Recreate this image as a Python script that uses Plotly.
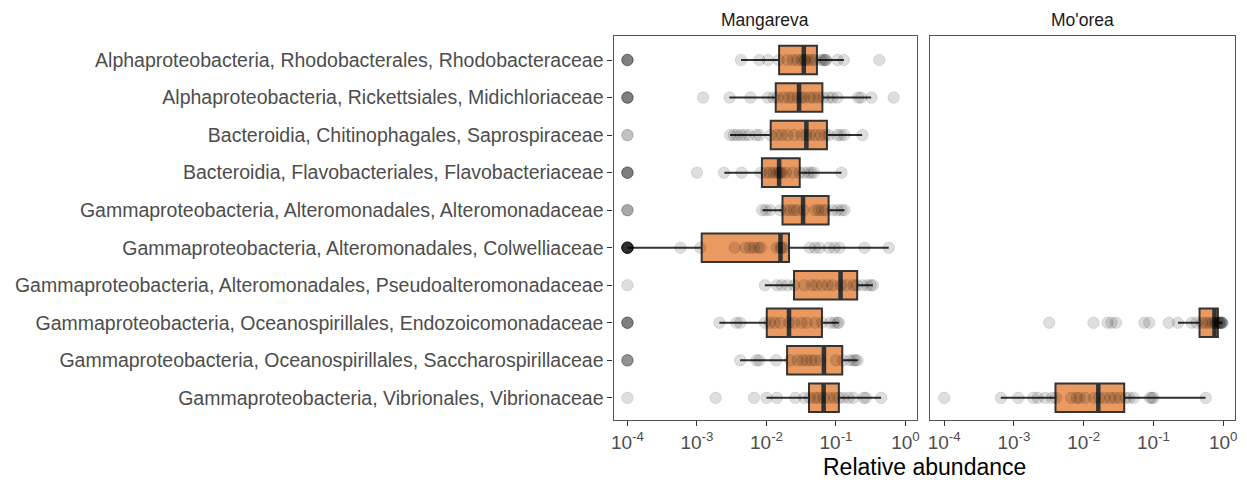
import plotly.graph_objects as go

categories = [
    "Alphaproteobacteria, Rhodobacterales, Rhodobacteraceae",
    "Alphaproteobacteria, Rickettsiales, Midichloriaceae",
    "Bacteroidia, Chitinophagales, Saprospiraceae",
    "Bacteroidia, Flavobacteriales, Flavobacteriaceae",
    "Gammaproteobacteria, Alteromonadales, Alteromonadaceae",
    "Gammaproteobacteria, Alteromonadales, Colwelliaceae",
    "Gammaproteobacteria, Alteromonadales, Pseudoalteromonadaceae",
    "Gammaproteobacteria, Oceanospirillales, Endozoicomonadaceae",
    "Gammaproteobacteria, Oceanospirillales, Saccharospirillaceae",
    "Gammaproteobacteria, Vibrionales, Vibrionaceae",
]
facets = ["Mangareva", "Mo'orea"]

# ---- Mangareva: box statistics (one per category) ----
man_q1 = [0.0152, 0.0136, 0.0115, 0.0086, 0.0170, 0.00117, 0.0249, 0.0101, 0.0198, 0.0409]
man_median = [0.0344, 0.0294, 0.0375, 0.0152, 0.0336, 0.0159, 0.1164, 0.0211, 0.0671, 0.0664]
man_q3 = [0.0532, 0.0637, 0.0741, 0.0301, 0.0783, 0.0211, 0.2018, 0.0628, 0.123, 0.110]
man_low = [0.0043, 0.00292, 0.00299, 0.00248, 0.0087, 0.0001, 0.00948, 0.0021, 0.00416, 0.0100]
man_high = [0.130, 0.321, 0.238, 0.120, 0.133, 0.573, 0.338, 0.110, 0.206, 0.446]

# ---- Mangareva: observations (zeros shown at 1e-4) ----
man_rhodobacteraceae = [1e-4, 1e-4, 1e-4, 1e-4, 1e-4, 4.3e-3, 7.9e-3, 1.05e-2, 1.5e-2, 2.0e-2, 2.4e-2, 2.8e-2,
                        3.2e-2, 3.5e-2, 3.6e-2, 4.0e-2, 4.5e-2, 5.0e-2, 6.0e-2, 6.5e-2, 6.8e-2, 7.1e-2,
                        7.2e-2, 0.105, 0.129, 0.42]
man_midichloriaceae = [1e-4, 1e-4, 1e-4, 1e-4, 1e-4, 1.23e-3, 2.95e-3, 5.9e-3, 1.05e-2, 1.26e-2, 1.45e-2,
                       1.78e-2, 2.1e-2, 2.4e-2, 2.8e-2, 3.2e-2, 3.5e-2, 4.2e-2, 4.8e-2, 5.6e-2, 6.6e-2,
                       7.9e-2, 8.9e-2, 0.105, 0.209, 0.229, 0.324, 0.676]
man_saprospiraceae = [1e-4, 1e-4, 3.0e-3, 3.4e-3, 3.8e-3, 4.3e-3, 4.9e-3, 5.6e-3, 7.1e-3, 7.9e-3, 1.15e-2,
                      1.41e-2, 1.66e-2, 2.0e-2, 2.5e-2, 3.2e-2, 3.7e-2, 4.2e-2, 5.0e-2, 6.0e-2, 7.1e-2,
                      7.9e-2, 0.105, 0.117, 0.132, 0.24]
man_flavobacteriaceae = [1e-4, 1e-4, 1e-4, 1e-4, 1e-4, 1.0e-3, 2.45e-3, 4.4e-3, 8.3e-3, 1.0e-2, 1.12e-2,
                         1.26e-2, 1.41e-2, 1.51e-2, 1.58e-2, 1.66e-2, 1.9e-2, 2.4e-2, 3.0e-2, 3.5e-2,
                         4.0e-2, 4.4e-2, 4.8e-2, 0.12]
man_alteromonadaceae = [1e-4, 1e-4, 1e-4, 8.7e-3, 9.8e-3, 1.12e-2, 1.58e-2, 1.9e-2, 2.2e-2, 2.5e-2, 2.8e-2,
                        3.4e-2, 5.0e-2, 5.6e-2, 6.3e-2, 7.1e-2, 8.9e-2, 0.105, 0.12, 0.132]
man_colwelliaceae = [1e-4, 1e-4, 1e-4, 1e-4, 1e-4, 1e-4, 1e-4, 1e-4, 1e-4, 1e-4, 1e-4, 1e-4,
                     5.8e-4, 1.12e-3, 3.5e-3, 5.0e-3, 5.8e-3, 6.6e-3, 7.6e-3, 8.3e-3, 1.41e-2, 1.58e-2,
                     1.66e-2, 1.78e-2, 4.2e-2, 5.0e-2, 5.8e-2, 7.9e-2, 9.5e-2, 0.112, 0.257, 0.575]
man_pseudoalteromonadaceae = [1e-4, 9.5e-3, 1.41e-2, 1.66e-2, 2.0e-2, 2.5e-2, 3.5e-2, 4.5e-2, 5.2e-2, 6.3e-2,
                              7.6e-2, 8.9e-2, 0.117, 0.141, 0.178, 0.2, 0.24, 0.282, 0.316, 0.339]
man_endozoicomonadaceae = [1e-4, 1e-4, 1e-4, 1e-4, 1e-4, 2.1e-3, 3.7e-3, 4.2e-3, 9.5e-3, 1.12e-2, 1.32e-2,
                           1.58e-2, 2.1e-2, 2.5e-2, 3.2e-2, 3.8e-2, 5.0e-2, 6.3e-2, 8.3e-2, 9.5e-2,
                           0.105, 0.11]
man_saccharospirillaceae = [1e-4, 1e-4, 1e-4, 1e-4, 4.2e-3, 7.2e-3, 7.9e-3, 1.38e-2, 2.2e-2, 2.8e-2, 3.3e-2,
                            3.8e-2, 4.4e-2, 5.0e-2, 6.0e-2, 0.1, 0.126, 0.158, 0.178, 0.19, 0.204]
man_vibrionaceae = [1e-4, 1.86e-3, 6.6e-3, 1.0e-2, 1.41e-2, 2.6e-2, 3.5e-2, 4.2e-2, 5.0e-2, 5.6e-2, 6.6e-2,
                    7.9e-2, 9.5e-2, 0.11, 0.126, 0.151, 0.178, 0.251, 0.269, 0.447]

# ---- Mo'orea: box statistics (only two families present) ----
moo_categories = [categories[7], categories[9]]
moo_q1 = [0.458, 0.00394]
moo_median = [0.751, 0.0162]
moo_q3 = [0.839, 0.0381]
moo_low = [0.225, 0.000646]
moo_high = [0.98, 0.558]

moo_endozoicomonadaceae = [3.2e-3, 1.38e-2, 2.2e-2, 2.5e-2, 2.9e-2, 7.4e-2, 8.7e-2, 0.166, 0.224, 0.355,
                           0.417, 0.501, 0.562, 0.631, 0.708, 0.759, 0.794, 0.832, 0.871, 0.891, 0.912,
                           0.933, 0.955, 0.955, 0.977]
moo_vibrionaceae = [1e-4, 6.5e-4, 1.15e-3, 1.9e-3, 2.2e-3, 2.8e-3, 3.5e-3, 4.0e-3, 6.6e-3, 7.9e-3, 8.7e-3,
                    1.05e-2, 1.41e-2, 1.66e-2, 2.0e-2, 2.4e-2, 2.8e-2, 3.3e-2, 4.0e-2, 4.5e-2, 5.2e-2,
                    8.9e-2, 9.5e-2, 0.1, 0.562]

tick_vals = [1e-4, 1e-3, 1e-2, 1e-1, 1]
tick_text = ["10<sup>-4</sup>", "10<sup>-3</sup>", "10<sup>-2</sup>", "10<sup>-1</sup>", "10<sup>0</sup>"]

man_points = [man_rhodobacteraceae, man_midichloriaceae, man_saprospiraceae, man_flavobacteriaceae,
              man_alteromonadaceae, man_colwelliaceae, man_pseudoalteromonadaceae,
              man_endozoicomonadaceae, man_saccharospirillaceae, man_vibrionaceae]
moo_points = [moo_endozoicomonadaceae, moo_vibrionaceae]

FONT = "Liberation Sans, Arial, Helvetica, sans-serif"
BOX_FILL = "#EA9A60"
EDGE = "#333333"
BOX_W = 0.76

fig = go.Figure()


def add_panel(cats, q1, med, q3, lo, hi, pts, xa, ya):
    fig.add_trace(go.Box(
        y=cats, q1=q1, median=med, q3=q3, lowerfence=lo, upperfence=hi,
        orientation="h", fillcolor=BOX_FILL, line=dict(color=EDGE, width=2),
        whiskerwidth=0, width=BOX_W, boxpoints=False, xaxis=xa, yaxis=ya,
        showlegend=False, hoverinfo="skip"))
    # thicker median bar (as in ggplot)
    fig.add_trace(go.Scatter(
        x=med, y=cats, mode="markers", xaxis=xa, yaxis=ya,
        marker=dict(symbol="line-ns", size=20, line=dict(color=EDGE, width=4.5)),
        showlegend=False, hoverinfo="skip"))
    xs, ys = [], []
    for c, p in zip(cats, pts):
        xs += p
        ys += [c] * len(p)
    fig.add_trace(go.Scatter(
        x=xs, y=ys, mode="markers", xaxis=xa, yaxis=ya,
        marker=dict(size=11.5, color="rgba(0,0,0,0.13)",
                    line=dict(color="rgba(0,0,0,0.10)", width=1)),
        showlegend=False, hoverinfo="skip"))


add_panel(categories, man_q1, man_median, man_q3, man_low, man_high, man_points, "x", "y")
add_panel(moo_categories, moo_q1, moo_median, moo_q3, moo_low, moo_high, moo_points, "x2", "y2")

W, H = 1247, 485
xdom1 = [613 / W, 918 / W]
xdom2 = [931 / W, 1237 / W]
ydom = [65 / H, 449 / H]

xcommon = dict(type="log", range=[-4.2, 0.17], tickvals=tick_vals, ticktext=tick_text,
               ticks="outside", ticklen=5, tickwidth=1.2, tickcolor=EDGE,
               showline=True, mirror=True, linecolor="#555555", linewidth=1.3,
               showgrid=False, zeroline=False,
               tickfont=dict(family=FONT, size=19, color="#4D4D4D"))
ycommon = dict(type="category", categoryorder="array", categoryarray=categories,
               range=[9.59, -0.64], showline=True, mirror=True, linecolor="#555555",
               linewidth=1.3, showgrid=False, zeroline=False)

fig.update_layout(
    width=W, height=H, margin=dict(l=0, r=0, t=0, b=0),
    paper_bgcolor="white", plot_bgcolor="white",
    font=dict(family=FONT),
    xaxis=dict(domain=xdom1, anchor="y", **xcommon),
    xaxis2=dict(domain=xdom2, anchor="y2", **xcommon),
    yaxis=dict(domain=ydom, anchor="x", ticks="outside", ticklen=5, tickwidth=1.2,
               tickcolor=EDGE, tickfont=dict(family=FONT, size=19.5, color="#4D4D4D"), **ycommon),
    yaxis2=dict(domain=ydom, anchor="x2", showticklabels=False, ticks="", **ycommon),
    annotations=[
        dict(text=facets[0], x=(xdom1[0] + xdom1[1]) / 2, y=(H - 20) / H, xref="paper", yref="paper",
             showarrow=False, xanchor="center", yanchor="middle",
             font=dict(family=FONT, size=17.5, color="#1A1A1A")),
        dict(text=facets[1], x=(xdom2[0] + xdom2[1]) / 2, y=(H - 20) / H, xref="paper", yref="paper",
             showarrow=False, xanchor="center", yanchor="middle",
             font=dict(family=FONT, size=17.5, color="#1A1A1A")),
        dict(text="Relative abundance", x=925 / W, y=(H - 467) / H, xref="paper", yref="paper",
             showarrow=False, xanchor="center", yanchor="middle",
             font=dict(family=FONT, size=23, color="black")),
    ],
)

fig.write_html("out.html")
